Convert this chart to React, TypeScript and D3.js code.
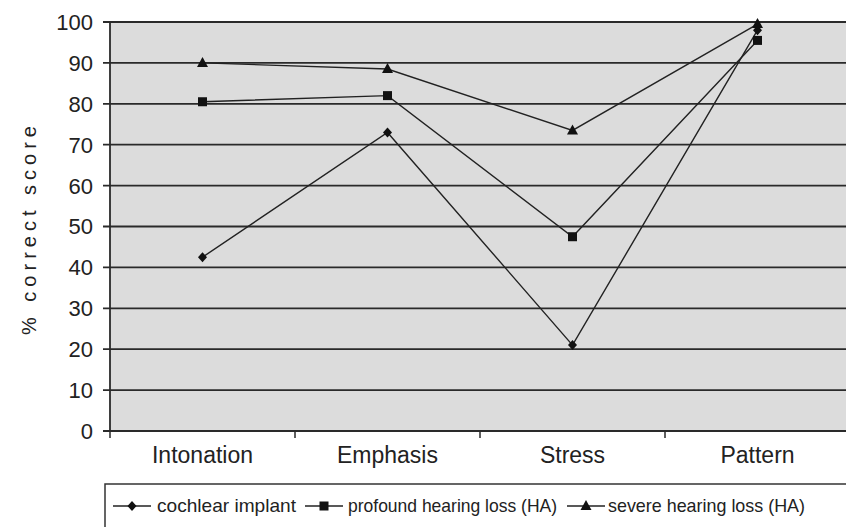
import React from "react";
import * as d3 from "d3";

const categories = ["Intonation", "Emphasis", "Stress", "Pattern"];
const cochlear = [42.5, 73, 21, 98];
const profound = [80.5, 82, 47.5, 95.5];
const severe = [90, 88.5, 73.5, 99.5];
const yTicks = [0, 10, 20, 30, 40, 50, 60, 70, 80, 90, 100];
const seriesNames = ["cochlear implant", "profound hearing loss (HA)", "severe hearing loss (HA)"];

const W = 846, H = 527;
const left = 110, right = 850, top = 22, bottom = 431;

export default function App() {
  const x = d3.scaleBand().domain(categories).range([left, right]);
  const y = d3.scaleLinear().domain([0, 100]).range([bottom, top]);
  const line = d3.line<number>().x((_, i) => x(categories[i])! + x.bandwidth() / 2).y(d => y(d));
  const series = [
    { name: seriesNames[0], data: cochlear, shape: "diamond" },
    { name: seriesNames[1], data: profound, shape: "square" },
    { name: seriesNames[2], data: severe, shape: "triangle" },
  ];
  const marker = (shape: string, cx: number, cy: number, key: any) => {
    if (shape === "diamond") return <path key={key} d={`M${cx},${cy - 5}L${cx + 4.5},${cy}L${cx},${cy + 5}L${cx - 4.5},${cy}Z`} fill="#111" />;
    if (shape === "square") return <rect key={key} x={cx - 4.5} y={cy - 4.5} width={9} height={9} fill="#111" />;
    return <path key={key} d={`M${cx},${cy - 6}L${cx + 5.5},${cy + 4}L${cx - 5.5},${cy + 4}Z`} fill="#111" />;
  };
  const legendItems = [
    { x0: 113, tx: 157, len: 139, shape: "diamond", name: seriesNames[0] },
    { x0: 305, tx: 348, len: 209, shape: "square", name: seriesNames[1] },
    { x0: 567, tx: 608, len: 197, shape: "triangle", name: seriesNames[2] },
  ];
  return (
    <svg width={W} height={H} style={{ position: "absolute", left: 0, top: 0, fontFamily: "Liberation Sans, Arial, sans-serif" }}>
      <rect x={0} y={0} width={W} height={H} fill="#fff" />
      <rect x={left} y={top} width={right - left} height={bottom - top} fill="#dcdcdc" />
      {yTicks.map(t => (
        <g key={t}>
          <line x1={left - 7} x2={right} y1={y(t)} y2={y(t)} stroke="#2a2a2a" strokeWidth={1.8} />
          <text x={93} y={y(t)} dy="0.36em" textAnchor="end" fontSize={22} fill="#222">{t}</text>
        </g>
      ))}
      <line x1={left} x2={left} y1={top} y2={bottom} stroke="#2a2a2a" strokeWidth={1.8} />
      {categories.map((c, i) => (
        <g key={c}>
          <line x1={left + i * x.bandwidth()} x2={left + i * x.bandwidth()} y1={bottom} y2={bottom + 7} stroke="#2a2a2a" strokeWidth={1.5} />
          <text x={x(c)! + x.bandwidth() / 2} y={463} textAnchor="middle" fontSize={23} fill="#222">{c}</text>
        </g>
      ))}
      <text transform={`translate(36,${228}) rotate(-90)`} textAnchor="middle" fontSize={20} letterSpacing={5} fill="#222">% correct score</text>
      {series.map(s => (
        <g key={s.name}>
          <path d={line(s.data)!} fill="none" stroke="#222" strokeWidth={1.4} />
          {s.data.map((v, i) => marker(s.shape, x(categories[i])! + x.bandwidth() / 2, y(v), i))}
        </g>
      ))}
      <rect x={105} y={484} width={760} height={60} fill="none" stroke="#333" strokeWidth={1.5} />
      {legendItems.map(l => (
        <g key={l.name}>
          <line x1={l.x0} x2={l.x0 + 38} y1={506} y2={506} stroke="#222" strokeWidth={1.4} />
          {marker(l.shape, l.x0 + 19, 506, "m")}
          <text x={l.tx} y={506} dy="0.35em" fontSize={18.5} textLength={l.len} lengthAdjust="spacingAndGlyphs" fill="#222">{l.name}</text>
        </g>
      ))}
    </svg>
  );
}
